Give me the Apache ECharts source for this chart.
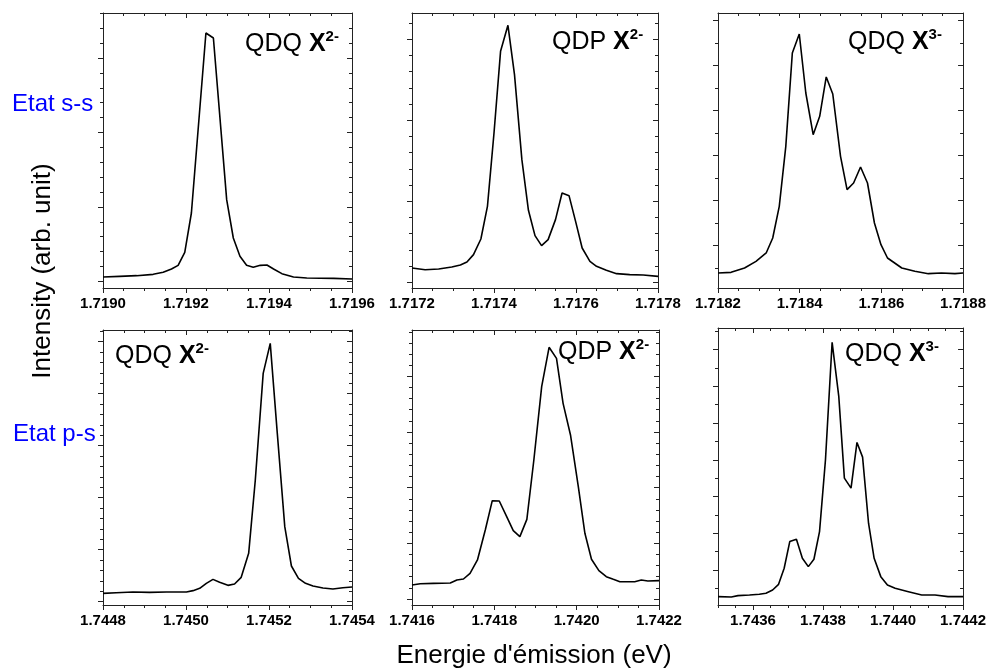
<!DOCTYPE html>
<html><head><meta charset="utf-8">
<script src="https://cdn.jsdelivr.net/npm/echarts@6/dist/echarts.min.js"></script>
<style>html,body{margin:0;padding:0;background:#fff}#chart{width:989px;height:670px}</style>
</head><body><div id="chart"></div>
<script>
// ---------- DATA (energy in eV, intensity in arbitrary units) ----------
const energy_ss_QDQ_X2 = [1.719000,1.719040,1.719081,1.719121,1.719145,1.719165,1.719181,1.719197,1.719213,1.719248,1.719266,1.719298,1.719314,1.719330,1.719346,1.719362,1.719379,1.719395,1.719411,1.719431,1.719459,1.719491,1.719556,1.719600];
const intensity_ss_QDQ_X2 = [0.058,0.067,0.076,0.094,0.121,0.166,0.215,0.390,0.918,3.336,3.269,1.097,0.582,0.336,0.215,0.188,0.215,0.219,0.166,0.103,0.058,0.045,0.040,0.031];

const energy_ss_QDP_X2 = [1.717200,1.717232,1.717265,1.717297,1.717318,1.717334,1.717350,1.717368,1.717384,1.717400,1.717416,1.717434,1.717450,1.717468,1.717484,1.717500,1.717516,1.717532,1.717550,1.717566,1.717583,1.717599,1.717615,1.717634,1.717650,1.717674,1.717699,1.717731,1.717764,1.717800];
const intensity_ss_QDP_X2 = [0.177,0.156,0.165,0.189,0.214,0.251,0.342,0.535,0.938,1.844,2.852,3.173,2.564,1.514,0.889,0.576,0.453,0.527,0.774,1.103,1.070,0.753,0.424,0.259,0.198,0.148,0.107,0.095,0.091,0.074];

const energy_ss_QDQ_X3 = [1.718200,1.718232,1.718265,1.718293,1.718318,1.718334,1.718350,1.718366,1.718382,1.718399,1.718415,1.718433,1.718449,1.718465,1.718481,1.718500,1.718516,1.718532,1.718549,1.718566,1.718583,1.718599,1.718615,1.718650,1.718682,1.718715,1.718747,1.718780,1.718800];
const intensity_ss_QDQ_X3 = [0.778,0.807,1.000,1.296,1.667,2.333,3.741,6.407,10.556,11.400,8.778,6.926,7.741,9.489,8.733,5.963,4.481,4.778,5.489,4.778,3.000,2.037,1.444,1.000,0.852,0.748,0.778,0.748,0.778];

const energy_ps_QDQ_X2 = [1.744800,1.744832,1.744872,1.744912,1.744953,1.745001,1.745017,1.745033,1.745049,1.745065,1.745081,1.745101,1.745117,1.745133,1.745151,1.745167,1.745186,1.745203,1.745220,1.745238,1.745254,1.745271,1.745288,1.745306,1.745330,1.745354,1.745378,1.745400];
const intensity_ps_QDQ_X2 = [0.160,0.173,0.186,0.179,0.186,0.186,0.212,0.256,0.353,0.429,0.372,0.314,0.340,0.468,0.929,2.340,4.391,4.968,3.237,1.442,0.686,0.449,0.353,0.301,0.263,0.244,0.269,0.282];

const energy_ps_QDP_X2 = [1.741600,1.741620,1.741652,1.741693,1.741709,1.741725,1.741741,1.741759,1.741778,1.741795,1.741812,1.741830,1.741846,1.741862,1.741879,1.741896,1.741915,1.741933,1.741951,1.741967,1.741985,1.742004,1.742020,1.742036,1.742054,1.742072,1.742089,1.742105,1.742121,1.742141,1.742157,1.742173,1.742200];
const intensity_ps_QDP_X2 = [0.251,0.275,0.281,0.287,0.341,0.359,0.461,0.701,1.240,1.766,1.760,1.479,1.228,1.120,1.431,2.497,3.814,4.521,4.323,3.515,2.946,2.018,1.180,0.713,0.509,0.401,0.353,0.311,0.311,0.311,0.341,0.323,0.329];

const energy_ps_QDQ_X3 = [1.743500,1.743538,1.743557,1.743590,1.743618,1.743637,1.743656,1.743673,1.743689,1.743705,1.743724,1.743741,1.743758,1.743774,1.743790,1.743807,1.743826,1.743845,1.743861,1.743880,1.743897,1.743913,1.743930,1.743946,1.743965,1.743984,1.744006,1.744044,1.744082,1.744120,1.744157,1.744200];
const intensity_ps_QDQ_X3 = [0.545,0.527,0.600,0.636,0.673,0.727,0.909,1.218,2.091,3.545,3.673,2.636,2.182,2.582,4.091,8.000,14.400,11.455,7.000,6.455,8.945,8.145,4.545,2.636,1.636,1.182,1.000,0.818,0.636,0.636,0.545,0.545];

// ---------- TICK LABELS ----------
const xTicks_ss_QDQ_X2 = [1.7190,1.7192,1.7194,1.7196];
const xTicks_ss_QDP_X2 = [1.7172,1.7174,1.7176,1.7178];
const xTicks_ss_QDQ_X3 = [1.7182,1.7184,1.7186,1.7188];
const xTicks_ps_QDQ_X2 = [1.7448,1.7450,1.7452,1.7454];
const xTicks_ps_QDP_X2 = [1.7416,1.7418,1.7420,1.7422];
const xTicks_ps_QDQ_X3 = [1.7436,1.7438,1.7440,1.7442];

const titles = ['{n|QDQ }{b|X}{s|2-}','{n|QDP }{b|X}{s|2-}','{n|QDQ }{b|X}{s|3-}',
                '{n|QDQ }{b|X}{s|2-}','{n|QDP }{b|X}{s|2-}','{n|QDQ }{b|X}{s|3-}'];
const rowLabels = ['Etat s-s','Etat p-s'];
const yTitle = 'Intensity (arb. unit)';
const xTitle = "Energie d'émission (eV)";

// ---------- LAYOUT ----------
const FONT = '"Liberation Sans", Arial, Helvetica, sans-serif';
const r6 = v => Math.round(v*1e7)/1e7;
function steps(a, b, s){ const out=[]; for(let k=Math.ceil(a/s-1e-9); k*s<=b+1e-12; k++) out.push(r6(k*s)); return out; }

const panels = [
  {e:energy_ss_QDQ_X2, i:intensity_ss_QDQ_X2, xMin:1.7190, xMax:1.7196, xt:xTicks_ss_QDQ_X2, yMin:-0.0896, yMax:3.605, yMaj:[0,1,2,3], yMinStep:0.2,
   g:{left:103, top:13, width:249, height:275}, t:[245,29]},
  {e:energy_ss_QDP_X2, i:intensity_ss_QDP_X2, xMin:1.7172, xMax:1.7178, xt:xTicks_ss_QDP_X2, yMin:-0.07, yMax:3.325, yMaj:[0,1,2,3], yMinStep:0.2,
   g:{left:412, top:13, width:246, height:275}, t:[552,27]},
  {e:energy_ss_QDQ_X3, i:intensity_ss_QDQ_X3, xMin:1.7182, xMax:1.7188, xt:xTicks_ss_QDQ_X3, yMin:0.111, yMax:12.333, yMaj:[2,4,6,8,10,12], yMinStep:1,
   g:{left:718, top:13, width:247, height:275}, t:[848,27]},
  {e:energy_ps_QDQ_X2, i:intensity_ps_QDQ_X2, xMin:1.7448, xMax:1.7454, xt:xTicks_ps_QDQ_X2, yMin:-0.064, yMax:5.224, yMaj:[0,1,2,3,4,5], yMinStep:0.2,
   g:{left:103, top:330, width:249, height:275}, t:[115,341]},
  {e:energy_ps_QDP_X2, i:intensity_ps_QDP_X2, xMin:1.7416, xMax:1.7422, xt:xTicks_ps_QDP_X2, yMin:-0.108, yMax:4.832, yMaj:[0,1,2,3,4], yMinStep:0.2,
   g:{left:412, top:330, width:247, height:275}, t:[558,337]},
  {e:energy_ps_QDQ_X3, i:intensity_ps_QDQ_X3, xMin:1.7435, xMax:1.7442, xt:xTicks_ps_QDQ_X3, yMin:0.091, yMax:15.18, yMaj:[2,4,6,8,10,12,14], yMinStep:1,
   g:{left:718, top:328, width:247, height:277}, t:[845,339]}
];

const AX = '#222';
const grid=[], xAxis=[], yAxis=[], series=[], title=[];
panels.forEach((p, k) => {
  grid.push(Object.assign({containLabel:false}, p.g));
  const xMinor = steps(p.xMin, p.xMax, 0.00005).filter(v => !p.xt.some(m => Math.abs(m-v) < 1e-9));
  const yMinor = steps(p.yMin, p.yMax, p.yMinStep).filter(v => !p.yMaj.some(m => Math.abs(m-v) < 1e-9));
  const baseX = {type:'value', gridIndex:k, min:p.xMin, max:p.xMax, splitLine:{show:false}, axisLabel:{show:false}};
  const baseY = {type:'value', gridIndex:k, min:p.yMin, max:p.yMax, splitLine:{show:false}, axisLabel:{show:false}};
  const line = {show:true, onZero:false, lineStyle:{color:AX, width:1}};
  const noLine = {show:false, onZero:false};
  xAxis.push(Object.assign({}, baseX, {position:'bottom', axisLine:line,
      axisTick:{customValues:p.xt, length:5, inside:false, lineStyle:{color:AX}},
      axisLabel:{show:true, customValues:p.xt, formatter:v=>Number(v).toFixed(4), fontFamily:FONT, fontWeight:'bold', fontSize:15, color:'#000', margin:8}}));
  xAxis.push(Object.assign({}, baseX, {position:'bottom', axisLine:noLine, axisTick:{customValues:xMinor, length:3, inside:false, lineStyle:{color:AX}}}));
  xAxis.push(Object.assign({}, baseX, {position:'top', axisLine:line, axisTick:{customValues:p.xt, length:5, inside:true, lineStyle:{color:AX}}}));
  xAxis.push(Object.assign({}, baseX, {position:'top', axisLine:noLine, axisTick:{customValues:xMinor, length:3, inside:true, lineStyle:{color:AX}}}));
  yAxis.push(Object.assign({}, baseY, {position:'left', axisLine:line, axisTick:{customValues:p.yMaj, length:5, inside:false, lineStyle:{color:AX}}}));
  yAxis.push(Object.assign({}, baseY, {position:'left', axisLine:noLine, axisTick:{customValues:yMinor, length:3, inside:false, lineStyle:{color:AX}}}));
  yAxis.push(Object.assign({}, baseY, {position:'right', axisLine:line, axisTick:{customValues:p.yMaj, length:5, inside:true, lineStyle:{color:AX}}}));
  yAxis.push(Object.assign({}, baseY, {position:'right', axisLine:noLine, axisTick:{customValues:yMinor, length:3, inside:true, lineStyle:{color:AX}}}));
  series.push({type:'line', xAxisIndex:4*k, yAxisIndex:4*k, data:p.e.map((x, j) => [x, p.i[j]]),
    showSymbol:false, symbol:'none', lineStyle:{color:'#000', width:1.6}, animation:false});
  title.push({text:titles[k], left:p.t[0], top:p.t[1], padding:0,
    textStyle:{fontWeight:'normal', fontFamily:FONT, fontSize:25, color:'#000', rich:{
      n:{fontFamily:FONT, fontSize:25, fontWeight:'normal', color:'#000', lineHeight:28, verticalAlign:'bottom'},
      b:{fontFamily:FONT, fontSize:25, fontWeight:'bold', color:'#000', lineHeight:28, verticalAlign:'bottom'},
      s:{fontFamily:FONT, fontSize:15, fontWeight:'bold', color:'#000', lineHeight:16, verticalAlign:'top'}
    }}});
});

const txt = (text, x, y, opts) => Object.assign({type:'text', x, y, silent:true,
  style:Object.assign({text, fontFamily:FONT, fontSize:24, fill:'#000', align:'left', verticalAlign:'middle',
    textAlign:'left', textVerticalAlign:'middle'}, opts.style || {})}, opts.el || {});

const graphic = [
  txt(rowLabels[0], 12, 104, {style:{fill:'#0000ff', fontSize:24}}),
  txt(rowLabels[1], 13, 434, {style:{fill:'#0000ff', fontSize:24}}),
  txt(yTitle, 43, 271, {style:{fontSize:26, align:'center', textAlign:'center'}, el:{rotation:Math.PI/2}}),
  txt(xTitle, 534, 656, {style:{fontSize:26, align:'center', textAlign:'center'}})
];

const chart = echarts.init(document.getElementById('chart'), null, {renderer:'canvas'});
chart.setOption({animation:false, backgroundColor:'#fff', title, grid, xAxis, yAxis, series, graphic});
</script></body></html>
